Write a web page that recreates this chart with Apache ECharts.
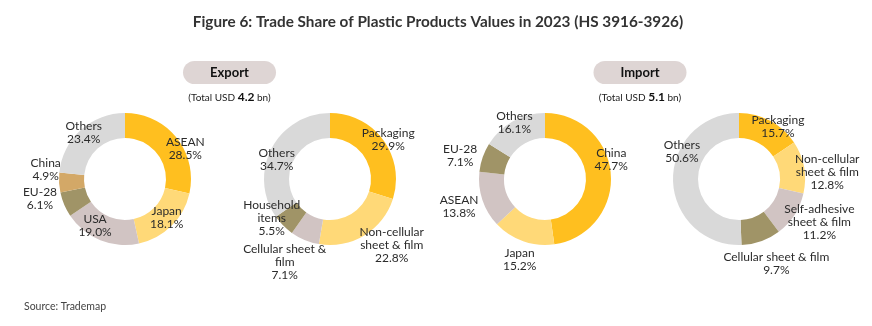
<!DOCTYPE html>
<html>
<head>
<meta charset="utf-8">
<script src="https://cdn.jsdelivr.net/npm/echarts@6/dist/echarts.min.js"></script>
<style>
html,body{margin:0;padding:0;background:#fff;}
#chart{width:872px;height:326px;}
</style>
</head>
<body>
<div id="chart"></div>
<script>
// ---- data ----
const titleText = 'Figure 6: Trade Share of Plastic Products Values in 2023 (HS 3916-3926)';
const sourceText = 'Source: Trademap';
const exportTotal = '4.2';
const importTotal = '5.1';

const exportMarkets = ['ASEAN', 'Japan', 'USA', 'EU-28', 'China', 'Others'];
const exportMarketShare = [28.5, 18.1, 19.0, 6.1, 4.9, 23.4];

const exportProducts = ['Packaging', 'Non-cellular\nsheet & film', 'Cellular sheet &\nfilm', 'Household\nitems', 'Others'];
const exportProductShare = [29.9, 22.8, 7.1, 5.5, 34.7];

const importMarkets = ['China', 'Japan', 'ASEAN', 'EU-28', 'Others'];
const importMarketShare = [47.7, 15.2, 13.8, 7.1, 16.1];

const importProducts = ['Packaging', 'Non-cellular\nsheet & film', 'Self-adhesive\nsheet & film', 'Cellular sheet & film', 'Others'];
const importProductShare = [15.7, 12.8, 11.2, 9.7, 50.6];

// ---- styles ----
const FONT = 'Lato, "Open Sans", sans-serif';
const C = {
  gold: '#FFBF1F', light: '#FFD978', pink: '#D1C4C3', olive: '#A09467', brown: '#D3A867', grey: '#D9D9D9'
};
const donuts = [
  { names: exportMarkets, values: exportMarketShare, center: [125, 179],
    colors: [C.gold, C.light, C.pink, C.olive, C.brown, C.grey],
    place: [[67.5, 12], [56.6, -2.6], [55.5, 10.7], [87.2, 10], [79.9, 10], [62.4, 0.7]] },
  { names: exportProducts, values: exportProductShare, center: [330, 179],
    colors: [C.gold, C.light, C.pink, C.olive, C.grey],
    place: [[70.1, 2.4], [90.8, -11.5], [94.8, 6], [70.3, 10.8], [56.7, -7.6]] },
  { names: importMarkets, values: importMarketShare, center: [545, 179],
    colors: [C.gold, C.light, C.pink, C.olive, C.grey],
    place: [[69, -12.1], [84.8, -1.9], [90.3, 0.6], [88, -3.9], [64.4, 0.6]] },
  { names: importProducts, values: importProductShare, center: [739, 179],
    colors: [C.gold, C.light, C.pink, C.olive, C.grey],
    place: [[65, 8.6], [88.5, 6.3], [91.2, -4.5], [92.8, -4.1], [63.4, 26.9]] }
];

function midAngles(values) {
  const total = values.reduce((a, b) => a + b, 0);
  let cum = 0;
  return values.map(v => { const m = (cum + v / 2) / total * 360; cum += v; return m; });
}

const series = donuts.map((d, si) => {
  const mids = midAngles(d.values);
  return {
    type: 'pie',
    center: d.center,
    radius: [41, 66],
    startAngle: 90,
    clockwise: true,
    silent: true,
    animation: false,
    itemStyle: { borderWidth: 0 },
    labelLine: { show: false },
    label: {
      show: true,
      position: 'inside',
      fontFamily: FONT,
      fontSize: 12,
      lineHeight: 13,
      color: '#2b2b2b',
      align: 'center',
      verticalAlign: 'middle',
      formatter: p => p.name + '\n' + p.value.toFixed(1) + '%'
    },
    labelLayout: function (params) {
      const i = params.dataIndex;
      const pl = d.place[i];
      const a = (mids[i] + pl[1]) * Math.PI / 180;
      return {
        x: d.center[0] + pl[0] * Math.sin(a),
        y: d.center[1] - pl[0] * Math.cos(a),
        align: 'center',
        verticalAlign: 'middle'
      };
    },
    data: d.values.map((v, i) => ({ name: d.names[i], value: v, itemStyle: { color: d.colors[i] } }))
  };
});

function pill(label, cx, cy) {
  return [
    { type: 'rect', shape: { x: cx - 46.5, y: cy - 11.5, width: 93, height: 23, r: 11.5 },
      style: { fill: '#DED5D4' }, silent: true },
    { type: 'text', x: cx, y: cy + 0.5,
      style: { text: label, fontFamily: FONT, fontWeight: 'bold', fontSize: 13, fill: '#111',
               align: 'center', verticalAlign: 'middle' }, silent: true }
  ];
}
function totalText(value, cx, cy) {
  return { type: 'text', x: cx, y: cy,
    style: { text: '(Total USD {b|' + value + '} bn)', fontFamily: FONT, fontSize: 10, fill: '#222',
      align: 'center', verticalAlign: 'middle',
      rich: { b: { fontFamily: FONT, fontWeight: 'bold', fontSize: 12, fill: '#111' } } },
    silent: true };
}

const chart = echarts.init(document.getElementById('chart'), null, { renderer: 'canvas' });
chart.setOption({
  backgroundColor: '#ffffff',
  animation: false,
  graphic: [
    { type: 'text', x: 438, y: 22,
      style: { text: titleText, fontFamily: FONT, fontWeight: 'bold', fontSize: 15.3, fill: '#333',
               align: 'center', verticalAlign: 'middle' }, silent: true },
    ...pill('Export', 229.5, 72.5),
    ...pill('Import', 640, 72.5),
    totalText(exportTotal, 229.5, 97.5),
    totalText(importTotal, 640, 97.5),
    { type: 'text', x: 24, y: 307,
      style: { text: sourceText, fontFamily: FONT, fontSize: 10.5, fill: '#444',
               align: 'left', verticalAlign: 'middle' }, silent: true }
  ],
  series: series
});
</script>
</body>
</html>
